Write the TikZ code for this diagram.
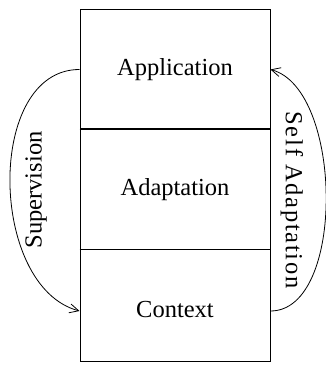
\documentclass[tikz,border=0pt]{standalone}
\usepackage{fontspec}
\setmainfont{Liberation Serif}
\newfontfamily\widefont[LetterSpace=7]{Liberation Serif}
\usetikzlibrary{arrows.meta}

\begin{document}
\begin{tikzpicture}[x=1pt,y=1pt]
\tikzstyle{every node}+=[font=\fontsize{24.5}{29}\selectfont]
\tikzstyle{layer}=[draw, line width=1pt, minimum width=190pt, inner sep=0pt]
\tikzstyle{loop}=[line width=0.8pt, -{Straight Barb[length=9pt,width=9pt]}]
\useasboundingbox (0,0) rectangle (325,370);
\node [layer, minimum height=119pt] (app) at (175,300.5) {Application};
\node [layer, minimum height=121pt] (adapt) at (175,180.5) {Adaptation};
\node [layer, minimum height=112pt, text height=24pt] (ctx) at (175,64) {Context};
\draw [line width=1.4pt] (app.south west) -- (app.south east);
\draw [line width=1.4pt] (ctx.north west) -- (ctx.north east);
\draw [loop] (app.west) to [out=180, in=165, looseness=1] ([yshift=-5pt]ctx.west);
\draw [loop] ([yshift=-5pt]ctx.east) to [out=0, in=-15, looseness=0.8] (app.east);
\node [rotate=90] (sup) at (36,180) {Supervision};
\node [rotate=-90, font=\fontsize{24.5}{29}\widefont] (self) at (292,170) {Self Adaptation};
\end{tikzpicture}
\end{document}
